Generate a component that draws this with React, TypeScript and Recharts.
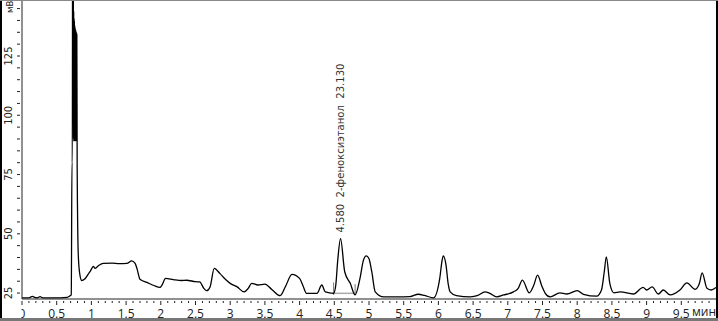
import { LineChart, Line, XAxis, YAxis, ReferenceLine, ReferenceDot } from "recharts";

// retention time, min
const TIME = [
  0, 0.1, 0.15, 0.18, 0.22, 0.26, 0.3, 0.45, 0.55, 0.65, 0.69, 0.71,
  0.72, 0.725, 0.73, 0.74, 0.7425, 0.745, 0.7475, 0.75, 0.7525, 0.755, 0.7575, 0.76, 0.7625,
  0.765, 0.7675, 0.77, 0.7725, 0.775, 0.7775, 0.78, 0.7825, 0.785, 0.7875, 0.79, 0.795,
  0.8, 0.81, 0.83, 0.86, 0.9, 0.95, 0.98, 1.03, 1.05, 1.1, 1.17, 1.3, 1.4, 1.51, 1.58, 1.63, 1.66,
  1.7, 1.8, 1.9, 1.99, 2.01, 2.07, 2.18, 2.3, 2.37, 2.5, 2.56, 2.62, 2.66, 2.71, 2.77, 2.85, 2.93,
  3.0, 3.1, 3.2, 3.26, 3.31, 3.4, 3.5, 3.6, 3.72, 3.8, 3.89, 4.0, 4.05, 4.1, 4.25, 4.32, 4.37,
  4.49, 4.52, 4.55, 4.59, 4.65, 4.73, 4.8, 4.87, 4.92, 4.96, 5.0, 5.04, 5.09, 5.21, 5.4, 5.59,
  5.71, 5.8, 5.93, 6.02, 6.05, 6.07, 6.11, 6.14, 6.17, 6.26, 6.46, 6.57, 6.67, 6.74, 6.84, 6.94,
  7.08, 7.15, 7.21, 7.31, 7.37, 7.43, 7.49, 7.54, 7.61, 7.75, 7.85, 8.0, 8.09, 8.28, 8.35, 8.39,
  8.42, 8.47, 8.53, 8.62, 8.81, 8.95, 9.0, 9.08, 9.17, 9.24, 9.34, 9.48, 9.58, 9.7, 9.76, 9.8,
  9.87, 9.93, 10,
];

// detector signal, mV
const SIGNAL = [
  23, 23, 23.6, 23.2, 23, 23.5, 23, 23, 23, 23.2, 23.8, 24.2,
  80, 80, 200, 147, 90, 144, 89, 141, 90, 140, 89, 138, 90,
  137, 89, 136, 90, 136, 89, 135, 90, 135, 89, 134, 78,
  60, 42, 33.5, 30.3, 30.8, 32.8, 34, 36.3, 35.4, 36.5, 37.5, 37.6, 37.4, 37.5, 38.6, 37.5, 35,
  30.8, 29.5, 28.2, 27.4, 28, 31.2, 30.7, 30.3, 30.4, 29.8, 29.7, 27, 26, 27.6, 35.4, 33.3, 30.8,
  29.1, 27.6, 25.5, 27, 29.1, 28.4, 28.8, 26.5, 23.9, 28, 32.9, 31.2, 28, 24.9, 24.9, 28.4, 25.5,
  24.9, 28, 39, 48, 34, 29.1, 24.2, 31.2, 38.9, 40.7, 39.5, 34, 25.5, 23.4, 23.4, 23.5,
  24.5, 24, 23, 31.3, 38.2, 40.7, 36.8, 29.1, 25.5, 23.9, 23.4, 24, 25.5, 24.9, 23.4, 24.2,
  25.5, 27, 30.5, 25.1, 28, 32.6, 28, 24.9, 23.4, 25.1, 24.6, 26, 24.5, 23.7, 26.3, 34,
  40.3, 29.1, 25.1, 25.5, 24.6, 27.4, 26.3, 27.6, 24.6, 26.3, 24.2, 26.3, 29.3, 26.6, 29, 33.5,
  27, 26.3, 27.4,
];

const X_MAJOR = [0, 0.5, 1, 1.5, 2, 2.5, 3, 3.5, 4, 4.5, 5, 5.5, 6, 6.5, 7, 7.5, 8, 8.5, 9, 9.5];
const X_TICKS = Array.from({ length: 100 }, (_, i) => i / 10);
const Y_MAJOR = [25, 50, 75, 100, 125];
const Y_TICKS = Array.from({ length: 25 }, (_, i) => 25 + i * 5);

// peak annotation
const PEAK_TIME = 4.59;
const PEAK_VALUE = 48;
const PEAK_LABEL = "4.580  2-феноксиэтанол  23.130";
const PEAK_START = 4.49;
const PEAK_END = 4.8;
const PEAK_BASE = 24.9;

const data = TIME.map((t, i) => ({ t, v: SIGNAL[i] }));

const NARROW = "'Liberation Sans Narrow', 'DejaVu Sans Condensed', 'Liberation Sans', sans-serif";

function XTick({ x, y, payload }: any) {
  const v = Math.round(payload.value * 10) / 10;
  const major = X_MAJOR.includes(v);
  return (
    <g>
      <line x1={x} x2={x} y1={y} y2={y + (major ? 4 : 2)} stroke="#222" />
      {major && (
        <text
          x={x}
          y={y + 17}
          textAnchor="middle"
          fontSize={12}
          fontFamily="'Open Sans', sans-serif"
          fill="#222"
          clipPath={v === 0 ? "url(#zeroClip)" : undefined}
        >
          {String(v)}
        </text>
      )}
    </g>
  );
}

function YTick({ x, y, payload }: any) {
  const v = payload.value;
  const major = Y_MAJOR.includes(v);
  return (
    <g>
      <line x1={x - 3} x2={x} y1={y} y2={y} stroke="#222" />
      {major && (
        <text
          x={12.5}
          y={y}
          transform={`rotate(-90, 12.5, ${y})`}
          textAnchor="middle"
          fontSize={11}
          fontFamily={NARROW}
          fill="#222"
        >
          {v}
        </text>
      )}
    </g>
  );
}

function PeakLabel({ viewBox }: any) {
  const x = viewBox.x + viewBox.width / 2 + 3;
  const y = viewBox.y + viewBox.height / 2 - 6;
  return (
    <text
      x={x}
      y={y}
      transform={`rotate(-90, ${x}, ${y})`}
      textAnchor="start"
      fontSize={10.5}
      fontFamily={NARROW}
      fill="#333"
      textLength={169}
      lengthAdjust="spacingAndGlyphs"
      style={{ whiteSpace: "pre" }}
    >
      {PEAK_LABEL}
    </text>
  );
}

export default function App() {
  return (
    <div style={{ position: "absolute", left: 0, top: 0, width: 718, height: 321, background: "#fff" }}>
      <LineChart width={718} height={321} data={data} margin={{ top: 1, right: 2, left: 0, bottom: 0 }}>
        <defs>
          <clipPath id="zeroClip">
            <rect x={21.5} y={290} width={30} height={31} />
          </clipPath>
        </defs>
        <XAxis
          dataKey="t"
          type="number"
          domain={[0, 10]}
          ticks={X_TICKS}
          interval={0}
          height={22}
          tickSize={0}
          tickLine={false}
          tick={<XTick />}
          axisLine={{ stroke: "#222" }}
          allowDataOverflow
        />
        <YAxis
          type="number"
          domain={[22.5, 148.2]}
          ticks={Y_TICKS}
          interval={0}
          width={22}
          tickSize={0}
          tickLine={false}
          tick={<YTick />}
          axisLine={{ stroke: "#222" }}
          allowDataOverflow
        />
        <ReferenceLine
          segment={[{ x: PEAK_START, y: PEAK_BASE }, { x: PEAK_END, y: PEAK_BASE }]}
          stroke="#aaa"
          strokeWidth={1.5}
        />
        <ReferenceLine segment={[{ x: PEAK_START, y: 24.2 }, { x: PEAK_START, y: 29.5 }]} stroke="#777" />
        <ReferenceLine segment={[{ x: PEAK_END, y: 24.2 }, { x: PEAK_END, y: 28.8 }]} stroke="#777" />
        <Line
          dataKey="v"
          type="monotone"
          stroke="#000"
          strokeWidth={1.3}
          dot={false}
          isAnimationActive={false}
        />
        <ReferenceDot
          x={PEAK_TIME}
          y={PEAK_VALUE}
          r={1}
          fill="none"
          stroke="none"
          label={(props: any) => <PeakLabel {...props} />}
        />
        <text
          x={13}
          y={13}
          transform="rotate(-90, 13, 13)"
          textAnchor="start"
          fontSize={9.5}
          fontFamily={NARROW}
          fill="#222"
        >
          мВ
        </text>
        <text x={716} y={316} textAnchor="end" fontSize={12} fontFamily="'Open Sans', sans-serif" fill="#222">
          мин
        </text>
      </LineChart>
      <div style={{ position: "absolute", left: 0, top: 0, width: 2, height: 321, background: "#000" }} />
      <div style={{ position: "absolute", left: 716, top: 0, width: 2, height: 321, background: "#000" }} />
      <div style={{ position: "absolute", left: 0, top: 0, width: 718, height: 1, background: "#888" }} />
      <div style={{ position: "absolute", left: 0, top: 318, width: 718, height: 3, background: "#777" }} />
    </div>
  );
}
